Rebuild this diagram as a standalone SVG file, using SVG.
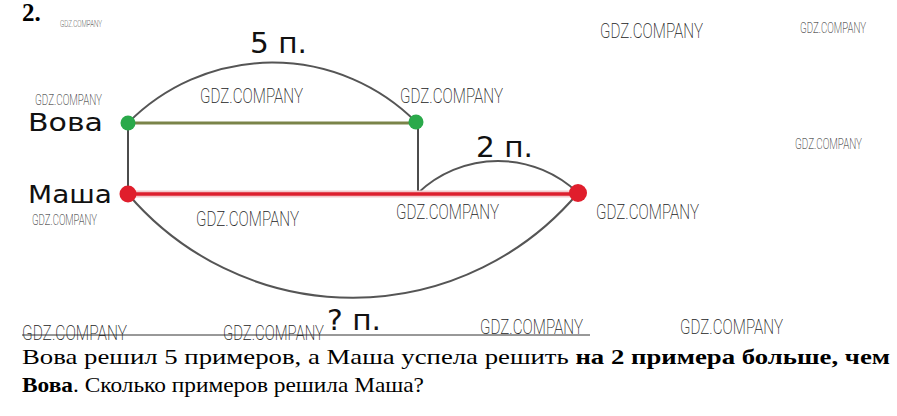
<svg xmlns="http://www.w3.org/2000/svg" width="897" height="416" viewBox="0 0 897 416">
<style>
.wm{font-family:"DejaVu Sans ExtraLight","Roboto",sans-serif;font-weight:200;fill:#222}
.lbl{font-family:"DejaVu Sans",Verdana,sans-serif;fill:#111}
.arc{fill:none;stroke:#555;stroke-width:2}
.vl{stroke:#111;stroke-width:1.5}
.tx{font-family:"Liberation Serif","Times New Roman",serif;font-size:22px;fill:#000}
</style>
<rect width="897" height="416" fill="#fff"/>
<text x="22" y="21" style="font-family:'Liberation Serif',serif;font-weight:bold;font-size:25px">2.</text>
<g id="connectors">
<path class="arc" d="M128,123 A203,203 0 0 1 416,122"/>
<path class="arc" d="M418,193 A116,116 0 0 1 578,193"/>
<path class="arc" d="M128,194 A295,295 0 0 0 578,193"/>
<line class="vl" x1="128" y1="123" x2="128" y2="194"/>
<line class="vl" x1="418" y1="122" x2="418" y2="193"/>
<line x1="128" y1="123" x2="416" y2="123" stroke="#7a8449" stroke-width="3"/>
<line x1="128" y1="194" x2="578" y2="194" stroke="#f3c9cc" stroke-width="7"/>
<line x1="128" y1="194" x2="578" y2="194" stroke="#dd1f2e" stroke-width="3.5"/>
<line x1="22" y1="335" x2="590" y2="335" stroke="#333" stroke-width="1"/>
</g>
<g id="vova">
<circle cx="128" cy="123" r="7.5" fill="#2aa94a"/>
<circle cx="416" cy="122" r="7.5" fill="#2aa94a"/>
<text class="lbl" x="28" y="131" font-size="25" textLength="75" lengthAdjust="spacingAndGlyphs">Вова</text>
</g>
<g id="masha">
<circle cx="128" cy="194" r="8.5" fill="#e01e2c"/>
<circle cx="578" cy="193" r="9" fill="#e01e2c"/>
<text class="lbl" x="28" y="203" font-size="25" textLength="84" lengthAdjust="spacingAndGlyphs">Маша</text>
</g>
<g id="labels">
<text class="lbl" x="250" y="53" font-size="28" textLength="57" lengthAdjust="spacingAndGlyphs">5 п.</text>
<text class="lbl" x="476" y="157" font-size="28" textLength="57" lengthAdjust="spacingAndGlyphs">2 п.</text>
<text class="lbl" x="327" y="330" font-size="28" textLength="54" lengthAdjust="spacingAndGlyphs">? п.</text>
</g>
<g id="watermarks">
<text class="wm" x="60" y="27" font-size="9" textLength="42" lengthAdjust="spacingAndGlyphs">GDZ.COMPANY</text>
<text class="wm" x="600" y="38" font-size="20" textLength="103" lengthAdjust="spacingAndGlyphs">GDZ.COMPANY</text>
<text class="wm" x="800" y="33" font-size="14" textLength="66" lengthAdjust="spacingAndGlyphs">GDZ.COMPANY</text>
<text class="wm" x="35" y="105" font-size="14" textLength="67" lengthAdjust="spacingAndGlyphs">GDZ.COMPANY</text>
<text class="wm" x="200" y="103" font-size="20" textLength="103" lengthAdjust="spacingAndGlyphs">GDZ.COMPANY</text>
<text class="wm" x="400" y="103" font-size="20" textLength="103" lengthAdjust="spacingAndGlyphs">GDZ.COMPANY</text>
<text class="wm" x="795" y="149" font-size="14" textLength="67" lengthAdjust="spacingAndGlyphs">GDZ.COMPANY</text>
<text class="wm" x="32" y="225" font-size="14" textLength="65" lengthAdjust="spacingAndGlyphs">GDZ.COMPANY</text>
<text class="wm" x="196" y="226" font-size="20" textLength="103" lengthAdjust="spacingAndGlyphs">GDZ.COMPANY</text>
<text class="wm" x="396" y="219" font-size="20" textLength="103" lengthAdjust="spacingAndGlyphs">GDZ.COMPANY</text>
<text class="wm" x="596" y="219" font-size="20" textLength="103" lengthAdjust="spacingAndGlyphs">GDZ.COMPANY</text>
<text class="wm" x="22" y="340" font-size="20" textLength="105" lengthAdjust="spacingAndGlyphs">GDZ.COMPANY</text>
<text class="wm" x="223" y="340" font-size="20" textLength="101" lengthAdjust="spacingAndGlyphs">GDZ.COMPANY</text>
<text class="wm" x="480" y="334" font-size="20" textLength="103" lengthAdjust="spacingAndGlyphs">GDZ.COMPANY</text>
<text class="wm" x="680" y="334" font-size="20" textLength="103" lengthAdjust="spacingAndGlyphs">GDZ.COMPANY</text>
</g>
<g id="problem">
<text class="tx" x="22" y="364" textLength="868" lengthAdjust="spacingAndGlyphs">Вова решил 5 примеров, а Маша успела решить <tspan font-weight="bold">на 2 примера больше, чем</tspan></text>
<text class="tx" x="22" y="392" textLength="402" lengthAdjust="spacingAndGlyphs"><tspan font-weight="bold">Вова</tspan>. Сколько примеров решила Маша?</text>
</g>
</svg>
